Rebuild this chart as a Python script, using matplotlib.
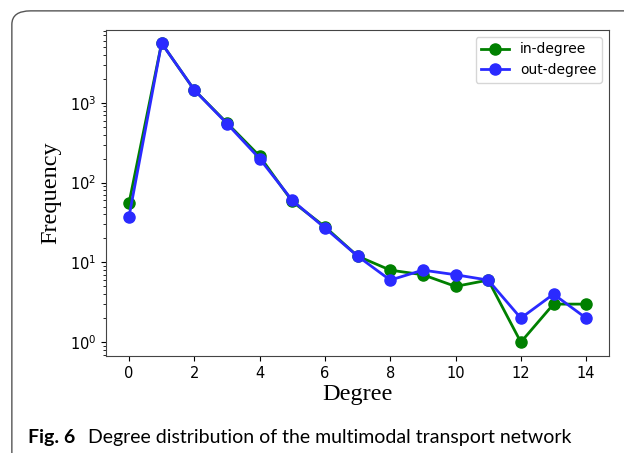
import matplotlib
matplotlib.use("Agg")
import matplotlib.pyplot as plt
from matplotlib.patches import FancyBboxPatch

# Degree distribution values
degrees = list(range(15))
in_degree = [55, 5600, 1450, 560, 215, 58, 28, 12, 8, 7, 5, 6, 1, 3, 3]
out_degree = [37, 5600, 1450, 550, 200, 60, 27, 12, 6, 8, 7, 6, 2, 4, 2]
x_ticks = [0, 2, 4, 6, 8, 10, 12, 14]

fig = plt.figure(figsize=(6.24, 4.53), dpi=100)

# rounded frame around the figure (journal style)
frame = FancyBboxPatch((0.019, -0.2), 1.2, 1.176,
                       boxstyle="round,pad=0,rounding_size=0.03",
                       transform=fig.transFigure, fill=False,
                       edgecolor="#555555", linewidth=1.0)
fig.patches.append(frame)

ax = fig.add_axes([0.170, 0.214, 0.806, 0.72])
ax.plot(degrees, in_degree, "-o", color="green", lw=2, ms=8, label="in-degree")
ax.plot(degrees, out_degree, "-o", color="#2a2aff", lw=2, ms=8, label="out-degree")
ax.set_yscale("log")
ax.set_ylim(0.67, 8200)
ax.set_xlim(-0.7, 14.7)
ax.set_xticks(x_ticks)
ax.tick_params(labelsize=10.5)
ax.set_xlabel("Degree", family="Liberation Serif", fontsize=17.5, labelpad=2)
ax.set_ylabel("Frequency", family="Liberation Serif", fontsize=17.5, labelpad=6)
for s in ax.spines.values():
    s.set_color("#444444")
ax.legend(loc="upper right", fontsize=10)

fig.text(0.045, 0.022, "Fig. 6", family="Lato", fontweight="bold", fontsize=14)
fig.text(0.141, 0.022, "Degree distribution of the multimodal transport network",
         family="Lato", fontsize=14)

fig.savefig("out.png", dpi=100)
